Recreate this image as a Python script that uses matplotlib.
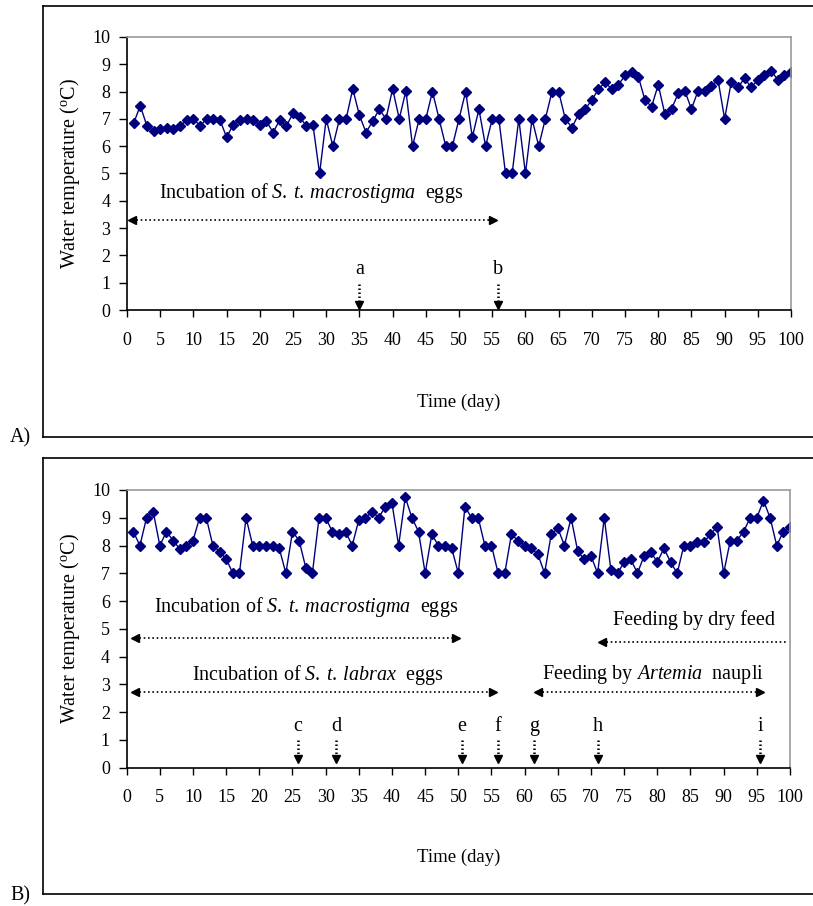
# water temperature during incubation and feeding, two panels
import matplotlib
matplotlib.use("Agg")
import matplotlib.pyplot as plt
from matplotlib.lines import Line2D
import numpy as np

plt.rcParams['font.family'] = ['Liberation Serif', 'DejaVu Serif']
plt.rcParams['mathtext.fontset'] = 'custom'
plt.rcParams['mathtext.rm'] = 'Liberation Serif'
plt.rcParams['mathtext.it'] = 'Liberation Serif:italic'

# days 1..100 for both panels
days = list(range(1, 101))

# panel A water temperature (C)
temp_a = [6.84, 7.48, 6.74, 6.56, 6.62, 6.67, 6.62, 6.74, 6.96, 7.01,
          6.74, 7.0, 7.0, 6.96, 6.33, 6.79, 6.96, 7.0, 6.96, 6.79,
          6.92, 6.5, 6.96, 6.74, 7.2, 7.08, 6.74, 6.79, 5.0, 7.0,
          6.0, 7.0, 7.0, 8.1, 7.13, 6.5, 6.92, 7.35, 7.0, 8.1,
          7.0, 8.03, 6.0, 7.0, 7.0, 8.0, 7.0, 6.0, 6.0, 7.0,
          8.0, 6.33, 7.35, 6.0, 7.0, 7.0, 5.0, 5.0, 7.0, 5.0,
          7.0, 6.0, 7.0, 8.0, 8.0, 7.0, 6.68, 7.17, 7.36, 7.69,
          8.09, 8.34, 8.09, 8.25, 8.59, 8.71, 8.55, 7.69, 7.45, 8.25,
          7.17, 7.36, 7.93, 8.03, 7.36, 8.03, 8.03, 8.19, 8.43, 7.0,
          8.36, 8.15, 8.49, 8.15, 8.43, 8.59, 8.77, 8.43, 8.59, 8.71]

# panel B water temperature (C)
temp_b = [8.5, 8.0, 9.0, 9.22, 8.0, 8.5, 8.18, 7.88, 8.0, 8.18,
          9.0, 9.0, 8.0, 7.78, 7.52, 7.0, 7.0, 9.0, 8.0, 8.0,
          8.0, 8.0, 7.9, 7.0, 8.5, 8.18, 7.2, 7.0, 9.0, 9.0,
          8.5, 8.4, 8.5, 8.0, 8.92, 9.0, 9.22, 9.0, 9.4, 9.52,
          8.0, 9.74, 9.0, 8.5, 7.0, 8.4, 8.0, 8.0, 7.9, 7.0,
          9.4, 9.0, 9.0, 8.0, 8.0, 7.0, 7.0, 8.4, 8.18, 8.0,
          7.9, 7.68, 7.0, 8.4, 8.62, 8.0, 9.0, 7.79, 7.5, 7.62,
          7.0, 9.0, 7.12, 7.0, 7.4, 7.5, 7.0, 7.62, 7.78, 7.4,
          7.9, 7.4, 7.0, 8.0, 8.0, 8.12, 8.12, 8.4, 8.68, 7.0,
          8.18, 8.18, 8.5, 9.0, 9.0, 9.62, 9.0, 8.0, 8.5, 8.68]

# event letters and the day they mark
events_a = ['a', 'b']
event_days_a = [35, 55.8]
events_b = ['c', 'd', 'e', 'f', 'g', 'h', 'i']
event_days_b = [25.8, 31.6, 50.5, 56.0, 61.4, 71.1, 95.5]

navy = '#00007f'
grey = '#999999'
fs_tick = 13
fs_lab = 13.5
fs_note = 14.5

fig = plt.figure(figsize=(8.13, 9.06), dpi=100)
ax_a = fig.add_axes([0.1562, 0.6578, 0.8168, 0.3014])
ax_b = fig.add_axes([0.1558, 0.1527, 0.8159, 0.3065])


def style_axes(ax):
    ax.set_xlim(0, 100)
    ax.set_ylim(0, 10)
    ax.set_xticks(np.arange(0, 101, 5))
    ax.set_yticks(np.arange(0, 11, 1))
    ax.tick_params(axis='x', direction='out', length=5, width=1, labelsize=fs_tick, pad=10.5)
    ax.tick_params(axis='y', direction='out', length=6, width=1, labelsize=fs_tick, pad=6)
    for side in ['left', 'bottom']:
        ax.spines[side].set_color('black')
        ax.spines[side].set_linewidth(1.2)
    for side in ['top', 'right']:
        ax.spines[side].set_color(grey)
        ax.spines[side].set_linewidth(1.2)


def harrow(ax, x0, x1, y, left_head, right_head):
    # dotted horizontal line with triangle heads
    ax.plot([x0, x1], [y, y], color='black', lw=1.2, ls=(0, (1, 1.6)))
    if left_head:
        ax.plot(x0, y, marker='<', color='black', ms=6)
    if right_head:
        ax.plot(x1, y, marker='>', color='black', ms=6)


def event_arrows(ax, names, where, y_text, y_top, y_head):
    for name, d in zip(names, where):
        ax.text(d, y_text, name, ha='center', va='center', fontsize=fs_note)
        ax.plot([d, d], [y_top, y_head], color='black', lw=1.8, ls=(0, (0.6, 1.0)))
        ax.plot(d, y_head, marker='v', color='black', ms=6)


for ax, temps in [(ax_a, temp_a), (ax_b, temp_b)]:
    style_axes(ax)
    ax.plot(days, temps, color=navy, lw=1, marker='D', ms=5,
            markerfacecolor=navy, markeredgecolor=navy)

# panel A annotations
harrow(ax_a, 0.7, 55.1, 3.3, True, True)
ax_a.text(27.7, 4.28, r'Incubation of $\mathit{S.\:t.\:macrostigma}$  eggs',
          ha='center', va='center', fontsize=fs_note)
event_arrows(ax_a, events_a, event_days_a, 1.5, 0.95, 0.2)

# panel B annotations
harrow(ax_b, 1.25, 49.7, 4.66, True, True)
ax_b.text(27.0, 5.8, r'Incubation of $\mathit{S.\:t.\:macrostigma}$  eggs',
          ha='center', va='center', fontsize=fs_note)
harrow(ax_b, 1.25, 55.3, 2.74, True, True)
ax_b.text(28.8, 3.34, r'Incubation of $\mathit{S.\:t.\:labrax}$  eggs',
          ha='center', va='center', fontsize=fs_note)
harrow(ax_b, 62.0, 95.5, 2.74, True, True)
ax_b.text(79.3, 3.34, r'Feeding by $\mathit{Artemia}$  naupli',
          ha='center', va='center', fontsize=fs_note)
harrow(ax_b, 71.7, 99.6, 4.54, True, False)
ax_b.text(85.6, 5.3, 'Feeding by dry feed', ha='center', va='center', fontsize=fs_note)
event_arrows(ax_b, events_b, event_days_b, 1.48, 0.98, 0.3)

# axis titles
ylab = r'Water temperature ($^{\mathrm{o}}$C)'
fig.text(0.0861, 1 - 173.5 / 906, ylab, rotation=90, ha='center', va='center', fontsize=14.5)
fig.text(0.0861, 1 - 629 / 906, ylab, rotation=90, ha='center', va='center', fontsize=14.5)
fig.text(0.5646, 1 - 402 / 906, 'Time (day)', ha='center', va='center', fontsize=fs_lab)
fig.text(0.5646, 1 - 857 / 906, 'Time (day)', ha='center', va='center', fontsize=fs_lab)

# outer frames around each panel (right side runs off the page)
for y0, y1 in [(1 - 437 / 906, 1 - 6 / 906), (1 - 894 / 906, 1 - 458 / 906)]:
    x0 = 43 / 813
    fig.add_artist(Line2D([x0, x0], [y0, y1], color='black', lw=1.2))
    fig.add_artist(Line2D([x0, 1.01], [y0, y0], color='black', lw=1.2))
    fig.add_artist(Line2D([x0, 1.01], [y1, y1], color='black', lw=1.2))

fig.text(20 / 813, 1 - 438 / 906, 'A)', ha='center', va='center', fontsize=fs_note)
fig.text(20 / 813, 1 - 896 / 906, 'B)', ha='center', va='center', fontsize=fs_note)

fig.savefig('out.png', dpi=100)
